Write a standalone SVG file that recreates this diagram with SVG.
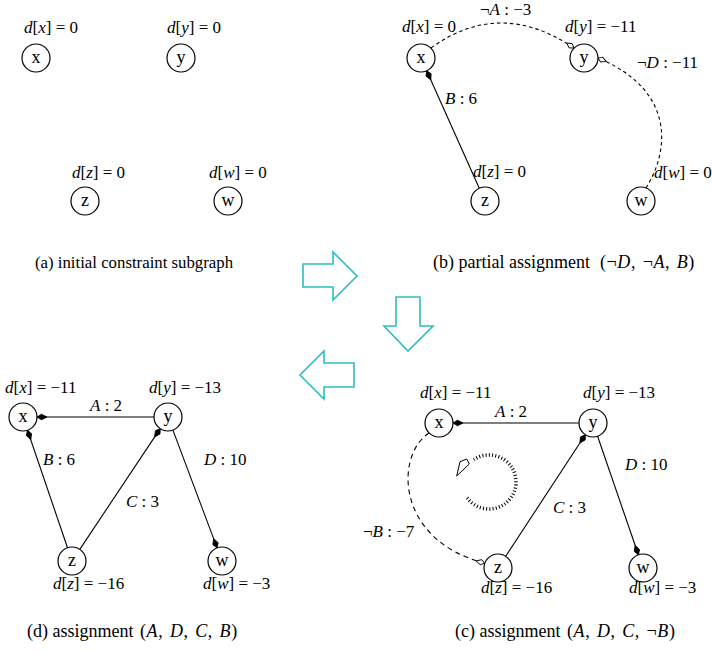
<svg xmlns="http://www.w3.org/2000/svg" width="712" height="652" viewBox="0 0 712 652">
<style>
.t{font-family:"Liberation Serif","Times New Roman",serif;font-size:17px;fill:#000}
.cap{font-family:"Liberation Serif","Times New Roman",serif;font-size:18px;fill:#000}
.m{letter-spacing:0.6px;word-spacing:1.5px}
.i{font-style:italic}
.n{font-family:"Liberation Serif","Times New Roman",serif;font-size:18px;fill:#000;text-anchor:middle}
.c{fill:#fff;stroke:#000;stroke-width:1.2}
.e{fill:none;stroke:#000;stroke-width:1.1}
.s{marker-end:url(#fill)}
.d{stroke-dasharray:3.5 3;marker-end:url(#open)}
.d2{stroke-dasharray:5 4;marker-end:url(#open)}
.rot{fill:none;stroke:#000;stroke-width:3.5;stroke-dasharray:1 2.2}
.big{fill:#fff;stroke:#2bbfbf;stroke-width:1.6;stroke-linejoin:miter}
</style>
<defs>
<marker id="fill" markerUnits="userSpaceOnUse" markerWidth="14" markerHeight="10" viewBox="-12 -5 14 10" refX="0" refY="0" orient="auto">
<path d="M0,0 L-4.5,-2.8 L-10,0 L-4.5,2.8 Z" fill="#000" stroke="#000" stroke-width="0.8"/>
</marker>
<marker id="open" markerUnits="userSpaceOnUse" markerWidth="14" markerHeight="10" viewBox="-12 -5 14 10" refX="0" refY="0" orient="auto">
<path d="M0,0 L-4,-2.6 L-9,0 L-4,2.6 Z" fill="#fff" stroke="#000" stroke-width="0.9"/>
</marker>
</defs>
<rect width="712" height="652" fill="#fff"/>

<!-- Panel (a) -->
<g id="a-x"><circle class="c" cx="36" cy="58" r="14"/><text class="n" x="36" y="63">x</text>
<text class="t" x="24" y="33"><tspan class="i">d</tspan>[<tspan class="i">x</tspan>] = 0</text></g>
<g id="a-y"><circle class="c" cx="181" cy="58" r="14"/><text class="n" x="181" y="63">y</text>
<text class="t" x="167" y="33"><tspan class="i">d</tspan>[<tspan class="i">y</tspan>] = 0</text></g>
<g id="a-z"><circle class="c" cx="85" cy="201" r="14"/><text class="n" x="85" y="206">z</text>
<text class="t" x="72" y="178"><tspan class="i">d</tspan>[<tspan class="i">z</tspan>] = 0</text></g>
<g id="a-w"><circle class="c" cx="228" cy="201" r="14"/><text class="n" x="228" y="206">w</text>
<text class="t" x="209" y="178"><tspan class="i">d</tspan>[<tspan class="i">w</tspan>] = 0</text></g>
<text class="cap" x="35" y="268" style="font-size:16.8px">(a) initial constraint subgraph</text>

<!-- Panel (b) -->
<g id="b-edges">
<path class="e s" d="M479.3,188.2 L426.7,70.8"/>
<path class="e d" d="M431,48 Q500,-2 574,48"/>
<path class="e d" d="M646,188 C670,150 675,90 598,58"/>
</g>
<g id="b-x"><circle class="c" cx="421" cy="58" r="14"/><text class="n" x="421" y="63">x</text></g>
<g id="b-y"><circle class="c" cx="584" cy="58" r="14"/><text class="n" x="584" y="63">y</text></g>
<g id="b-z"><circle class="c" cx="485" cy="201" r="14"/><text class="n" x="485" y="206">z</text></g>
<g id="b-w"><circle class="c" cx="641" cy="201" r="14"/><text class="n" x="641" y="206">w</text></g>
<text class="t" x="402" y="32"><tspan class="i">d</tspan>[<tspan class="i">x</tspan>] = 0</text>
<text class="t" x="480" y="15">¬<tspan class="i">A</tspan> : −3</text>
<text class="t" x="565" y="32"><tspan class="i">d</tspan>[<tspan class="i">y</tspan>] = −11</text>
<text class="t" x="637" y="68">¬<tspan class="i">D</tspan> : −11</text>
<text class="t" x="445" y="104"><tspan class="i">B</tspan> : 6</text>
<text class="t" x="473" y="177"><tspan class="i">d</tspan>[<tspan class="i">z</tspan>] = 0</text>
<text class="t" x="654" y="178"><tspan class="i">d</tspan>[<tspan class="i">w</tspan>] = 0</text>
<text class="cap" y="268"><tspan x="433">(b) partial assignment</tspan><tspan x="600" class="m">(¬<tspan class="i">D</tspan>, ¬<tspan class="i">A</tspan>, <tspan class="i">B</tspan>)</tspan></text>

<!-- Transition arrows -->
<g id="arrows">
<polygon class="big" points="303,264 333,264 333,252 357,276 333,300 333,287 303,287"/>
<polygon class="big" points="396,297 420,297 420,326 433,326 408,351 384,326 396,326"/>
<polygon class="big" points="354,363 324,363 324,351 300,375 324,399 324,387 354,387"/>
</g>

<!-- Panel (d) -->
<g id="d-edges">
<path class="e s" d="M154,417 L37,417"/>
<path class="e s" d="M67.5,547.7 L27.5,430.3"/>
<path class="e s" d="M79.8,549.4 L160.2,428.6"/>
<path class="e s" d="M172.9,430.1 L217.1,547.9"/>
</g>
<g id="d-x"><circle class="c" cx="23" cy="417" r="14"/><text class="n" x="23" y="422">x</text></g>
<g id="d-y"><circle class="c" cx="168" cy="417" r="14"/><text class="n" x="168" y="422">y</text></g>
<g id="d-z"><circle class="c" cx="72" cy="561" r="14"/><text class="n" x="72" y="566">z</text></g>
<g id="d-w"><circle class="c" cx="222" cy="561" r="14"/><text class="n" x="222" y="566">w</text></g>
<text class="t" x="5" y="393"><tspan class="i">d</tspan>[<tspan class="i">x</tspan>] = −11</text>
<text class="t" x="149" y="393"><tspan class="i">d</tspan>[<tspan class="i">y</tspan>] = −13</text>
<text class="t" x="90" y="411"><tspan class="i">A</tspan> : 2</text>
<text class="t" x="43" y="465"><tspan class="i">B</tspan> : 6</text>
<text class="t" x="126" y="507"><tspan class="i">C</tspan> : 3</text>
<text class="t" x="204" y="465"><tspan class="i">D</tspan> : 10</text>
<text class="t" x="53" y="589"><tspan class="i">d</tspan>[<tspan class="i">z</tspan>] = −16</text>
<text class="t" x="203" y="589"><tspan class="i">d</tspan>[<tspan class="i">w</tspan>] = −3</text>
<text class="cap" y="637"><tspan x="27">(d) assignment</tspan><tspan x="140" class="m">(<tspan class="i">A</tspan>, <tspan class="i">D</tspan>, <tspan class="i">C</tspan>, <tspan class="i">B</tspan>)</tspan></text>

<!-- Panel (c) -->
<g id="c-edges">
<path class="e s" d="M579,423 L453,423"/>
<path class="e s" d="M505.7,556.3 L585.3,434.7"/>
<path class="e s" d="M597.6,436.2 L638.4,554.8"/>
<path class="e d2" d="M429,433 C395,455 395,540 484.8,563.2"/>
<path class="rot" d="M467.2,497.9 A27,27 0 1 0 473.9,459.6"/>
<polygon points="456.7,476 460,461.7 466.7,459 469.3,464" fill="#fff" stroke="#000" stroke-width="1"/>
</g>
<g id="c-x"><circle class="c" cx="439" cy="423" r="14"/><text class="n" x="439" y="428">x</text></g>
<g id="c-y"><circle class="c" cx="593" cy="423" r="14"/><text class="n" x="593" y="428">y</text></g>
<g id="c-z"><circle class="c" cx="498" cy="568" r="14"/><text class="n" x="498" y="573">z</text></g>
<g id="c-w"><circle class="c" cx="643" cy="568" r="14"/><text class="n" x="643" y="573">w</text></g>
<text class="t" x="420" y="398"><tspan class="i">d</tspan>[<tspan class="i">x</tspan>] = −11</text>
<text class="t" x="583" y="398"><tspan class="i">d</tspan>[<tspan class="i">y</tspan>] = −13</text>
<text class="t" x="495" y="417"><tspan class="i">A</tspan> : 2</text>
<text class="t" x="625" y="470"><tspan class="i">D</tspan> : 10</text>
<text class="t" x="553" y="513"><tspan class="i">C</tspan> : 3</text>
<text class="t" x="363" y="537">¬<tspan class="i">B</tspan> : −7</text>
<text class="t" x="481" y="593"><tspan class="i">d</tspan>[<tspan class="i">z</tspan>] = −16</text>
<text class="t" x="629" y="593"><tspan class="i">d</tspan>[<tspan class="i">w</tspan>] = −3</text>
<text class="cap" y="637"><tspan x="455">(c) assignment</tspan><tspan x="567" class="m">(<tspan class="i">A</tspan>, <tspan class="i">D</tspan>, <tspan class="i">C</tspan>, ¬<tspan class="i">B</tspan>)</tspan></text>
</svg>
